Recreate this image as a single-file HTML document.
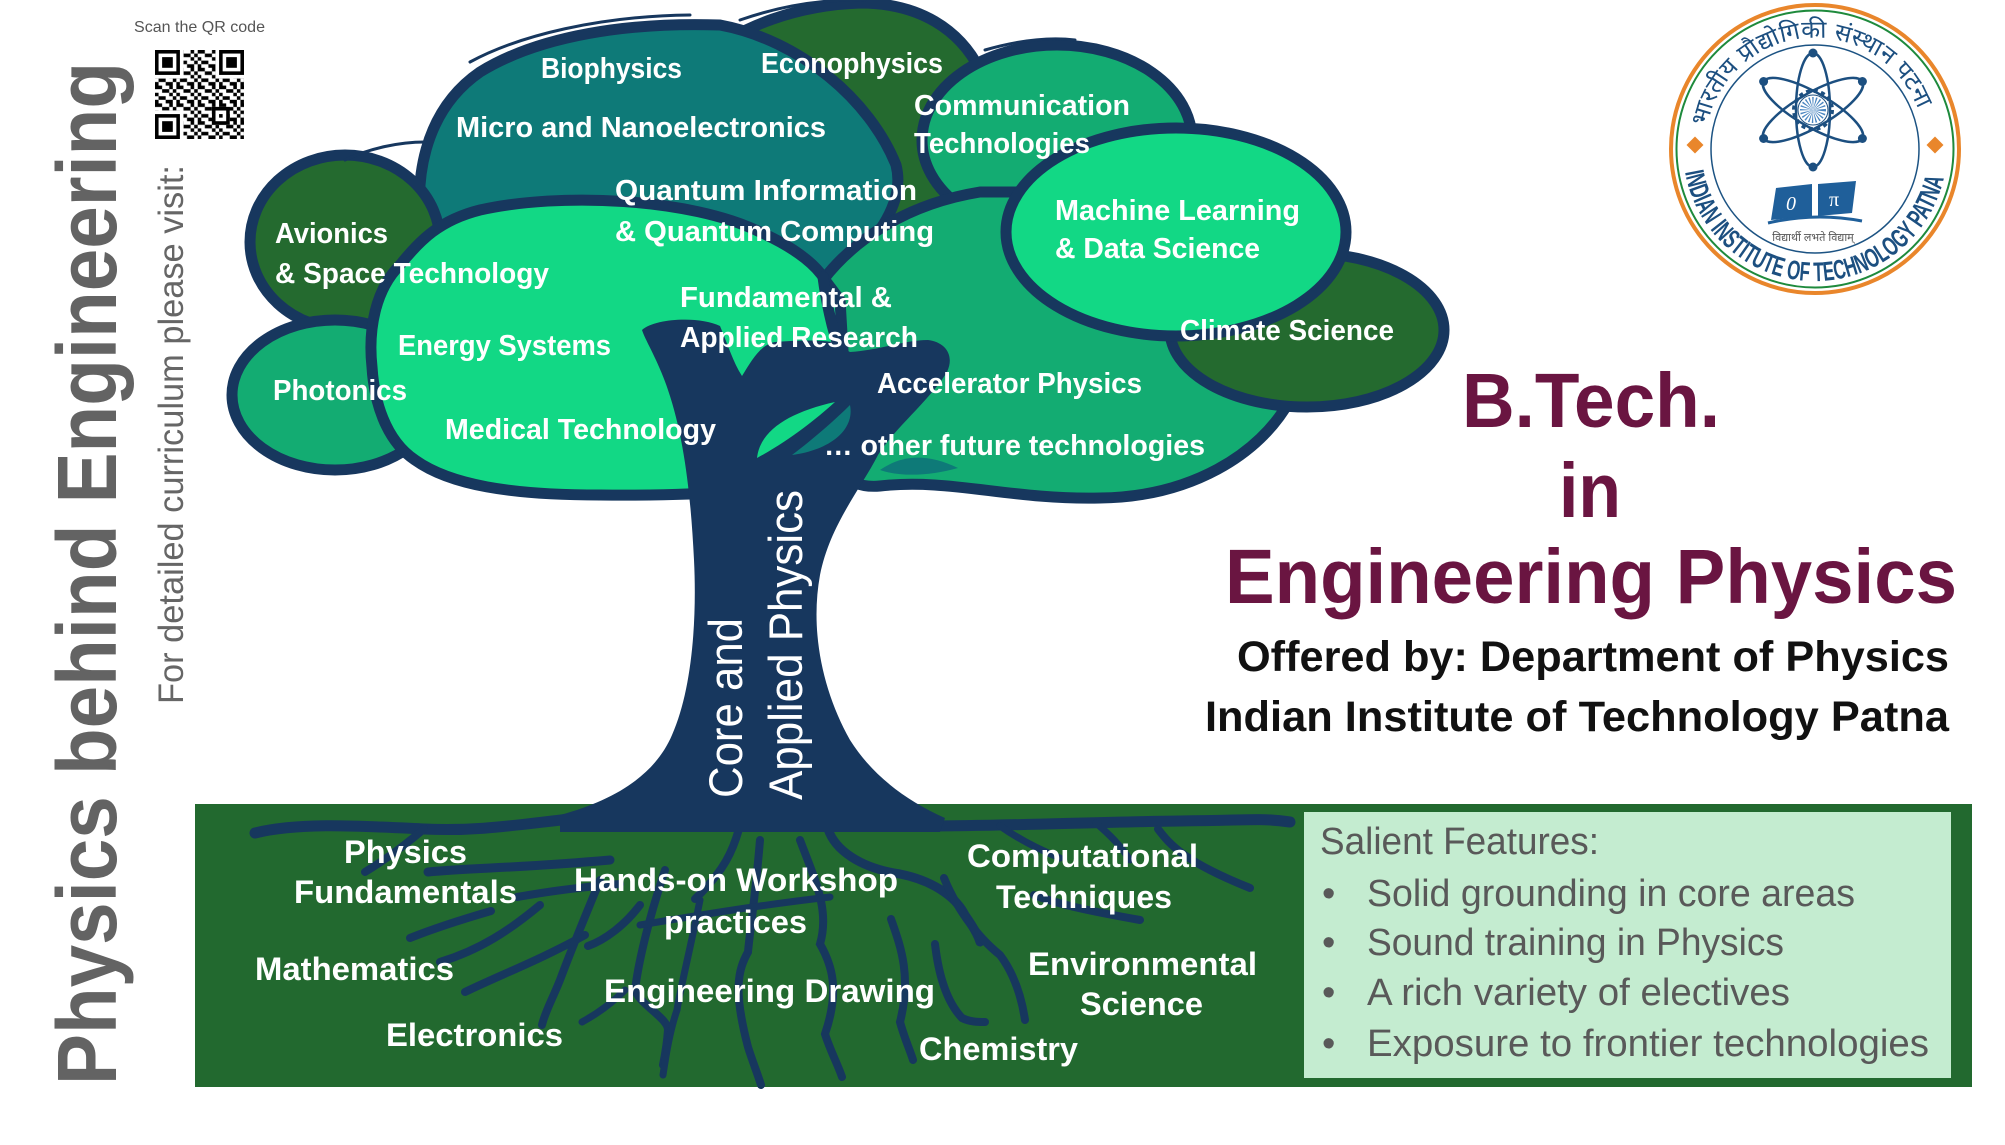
<!DOCTYPE html>
<html>
<head>
<meta charset="utf-8">
<style>
  html,body{margin:0;padding:0;background:#fff;}
  svg{display:block;}
  .cw{font-family:"Liberation Sans",sans-serif;font-weight:bold;fill:#fff;font-size:29px;}
  .gw{font-family:"Liberation Sans",sans-serif;font-weight:bold;fill:#fff;font-size:32px;}
  .sf{font-family:"Liberation Sans",sans-serif;fill:#595959;font-size:38px;}
  .tt{font-family:"Liberation Sans",sans-serif;font-weight:bold;fill:#6a1541;font-size:77px;}
  .ob{font-family:"Liberation Sans",sans-serif;font-weight:bold;fill:#111;font-size:43px;}
  .rt{fill:none;stroke:#17375e;stroke-linecap:round;}
</style>
</head>
<body>
<svg width="2005" height="1145" viewBox="0 0 2005 1145" xmlns="http://www.w3.org/2000/svg">
<defs>
  <pattern id="qrp" width="6" height="5" patternUnits="userSpaceOnUse">
    <rect width="6" height="5" fill="#fff"/>
    <path d="M0 0h2v1h-2z M4 0h1v1h-1z M2 1h2v1h-2z M5 1h1v1h-1z M0 2h1v1h-1z M4 2h1v1h-1z M1 3h2v1h-2z M5 3h1v1h-1z M0 4h1v1h-1z M3 4h2v1h-2z" fill="#000"/>
  </pattern>
  <path id="arcB" d="M 1685 172 A 132 132 0 0 0 1945 172" fill="none"/>
  <path id="arcT" d="M 1706 133 A 110 110 0 0 1 1924 133" fill="none"/>
</defs>

<rect width="2005" height="1145" fill="#fff"/>

<!-- Left vertical texts -->
<text transform="translate(116,1085) rotate(-90)" font-family="Liberation Sans, sans-serif" font-weight="bold" font-size="84" fill="#636363" textLength="1023" lengthAdjust="spacingAndGlyphs">Physics behind Engineering</text>
<text transform="translate(183,704) rotate(-90)" font-family="Liberation Sans, sans-serif" font-size="35" fill="#666" textLength="539" lengthAdjust="spacingAndGlyphs">For detailed curriculum please visit:</text>
<text x="134" y="32" font-family="Liberation Sans, sans-serif" font-size="16" fill="#555" textLength="131" lengthAdjust="spacingAndGlyphs">Scan the QR code</text>

<!-- QR code -->
<g transform="translate(155,50) scale(3.56)">
  <rect x="0" y="0" width="25" height="25" fill="url(#qrp)"/>
  <rect x="0" y="0" width="8" height="8" fill="#fff"/>
  <rect x="17" y="0" width="8" height="8" fill="#fff"/>
  <rect x="0" y="17" width="8" height="8" fill="#fff"/>
  <g fill="#000">
    <rect x="0" y="0" width="7" height="7"/><rect x="18" y="0" width="7" height="7"/><rect x="0" y="18" width="7" height="7"/>
    <rect x="16" y="16" width="5" height="5"/>
  </g>
  <g fill="#fff">
    <rect x="1" y="1" width="5" height="5"/><rect x="19" y="1" width="5" height="5"/><rect x="1" y="19" width="5" height="5"/>
    <rect x="17" y="17" width="3" height="3"/>
  </g>
  <g fill="#000">
    <rect x="2" y="2" width="3" height="3"/><rect x="20" y="2" width="3" height="3"/><rect x="2" y="20" width="3" height="3"/>
    <rect x="18" y="18" width="1" height="1"/>
  </g>
</g>

<!-- Ground -->
<rect x="195" y="804" width="1777" height="283" fill="#22692f"/>
<rect x="1304" y="812" width="647" height="266" fill="#c4ecd0"/>

<!-- Roots -->
<g class="rt">
  <path d="M 255 833 C 300 822, 360 826, 424 829 S 530 822, 610 815" stroke-width="11"/>
  <path d="M 424 829 C 405 845, 385 860, 365 872" stroke-width="8"/>
  <path d="M 428 872 C 470 868, 520 868, 610 860" stroke-width="9"/>
  <path d="M 517 897 C 540 893, 570 888, 620 884" stroke-width="8"/>
  <path d="M 491 911 C 460 920, 430 930, 410 938" stroke-width="8"/>
  <path d="M 540 905 C 510 930, 480 950, 440 962" stroke-width="8"/>
  <path d="M 585 935 C 540 960, 500 975, 465 992" stroke-width="8"/>
  <path d="M 600 880 C 590 905, 575 940, 560 980 C 552 1000, 545 1012, 542 1025" stroke-width="8"/>
  <path d="M 640 905 C 625 925, 605 940, 588 946" stroke-width="8"/>
  <path d="M 665 870 C 655 900, 640 950, 635 990 C 640 1005, 668 1018, 668 1030 C 667 1045, 665 1055, 663 1065" stroke-width="8"/>
  <path d="M 625 990 C 610 1005, 595 1015, 582 1022" stroke-width="7"/>
  <path d="M 930 826 C 1000 826, 1100 822, 1180 821 S 1260 818, 1290 822" stroke-width="11"/>
  <path d="M 1158 829 C 1170 845, 1185 862, 1250 888" stroke-width="8"/>
  <path d="M 828 829 C 835 850, 860 868, 900 874 C 930 880, 955 895, 965 915 C 972 925, 978 935, 980 942" stroke-width="9"/>
  <path d="M 944 878 C 955 905, 975 935, 1000 955 C 1015 975, 1022 1000, 1025 1020" stroke-width="8"/>
  <path d="M 1034 895 C 1060 905, 1095 912, 1140 920" stroke-width="8"/>
  <path d="M 935 944 C 938 970, 945 1000, 962 1018 C 970 1022, 978 1022, 985 1022" stroke-width="8"/>
  <path d="M 891 919 C 900 945, 912 975, 900 1022 C 905 1040, 910 1050, 913 1060" stroke-width="8"/>
  <path d="M 800 840 C 815 880, 830 910, 820 944 C 832 965, 840 990, 825 1034 C 830 1050, 838 1065, 842 1077" stroke-width="8"/>
  <path d="M 760 840 C 755 900, 750 930, 748 952 C 738 970, 733 990, 748 1047 C 752 1060, 758 1075, 761 1085" stroke-width="8"/>
  <path d="M 739 829 C 733 850, 725 870, 695 899" stroke-width="8"/>
  <path d="M 700 900 C 690 950, 680 990, 677 1010 C 670 1030, 666 1055, 663 1075" stroke-width="7"/>
  <path d="M 1096 823 C 1110 835, 1120 845, 1130 860" stroke-width="7"/>
  <path d="M 1000 826 C 1020 840, 1040 850, 1060 858" stroke-width="7"/>
  <path d="M 640 925 C 700 915, 760 905, 830 897" stroke-width="7"/>
</g>

<!-- Canopy blobs -->
<g stroke="#17375e" stroke-width="11" stroke-linejoin="round">
  <path d="M 700 60 C 740 25, 800 5, 860 3 C 920 3, 960 30, 980 70 L 990 240 L 700 240 Z" fill="#246a2f"/>
  <path d="M 425 250 C 410 180, 425 110, 480 72 C 540 35, 630 22, 720 25 C 800 40, 870 100, 896 165 C 905 200, 880 240, 840 270 L 820 280 L 600 300 L 430 290 Z" fill="#0e7a78"/>
  <ellipse cx="1057" cy="140" rx="135" ry="95" fill="#13ac72"/>
  <ellipse cx="345" cy="242" rx="95" ry="87" fill="#246a2f"/>
  <ellipse cx="335" cy="395" rx="103" ry="75" fill="#13ac72"/>
  <path d="M 823 280 C 850 245, 900 205, 980 192 L 1200 192 L 1300 300 L 1290 400 C 1260 455, 1190 497, 1100 498 C 1010 500, 950 478, 880 486 C 860 488, 845 480, 835 470 Z" fill="#13ac72"/>
  <ellipse cx="1307" cy="330" rx="137" ry="77" fill="#246a2f"/>
  <ellipse cx="1176" cy="232" rx="170" ry="104" fill="#12d885"/>
  <path d="M 372 367 C 368 330, 375 290, 400 265 C 420 240, 440 220, 480 210 C 560 192, 690 198, 760 232 C 800 250, 818 268, 825 280 L 840 300 L 850 470 C 780 492, 700 496, 600 495 C 510 495, 450 485, 415 460 C 385 440, 374 400, 372 367 Z" fill="#12d885"/>
</g>

<!-- thin highlight lines -->
<g fill="none" stroke="#17375e" stroke-width="3" stroke-linecap="round">
  <path d="M 470 62 C 520 35, 600 16, 690 15"/>
  <path d="M 345 160 C 370 148, 400 142, 425 142"/>
  <path d="M 740 20 C 780 6, 820 -1, 865 0"/>
  <path d="M 985 50 C 1020 40, 1050 37, 1075 40"/>
</g>

<!-- vertical branch -->
<path d="M 823 277 C 826 300, 832 330, 840 350 C 850 370, 855 390, 848 410" fill="none" stroke="#17375e" stroke-width="11" stroke-linecap="round"/>

<!-- Trunk -->
<path d="M 560 815 C 615 800, 655 775, 672 735 C 692 690, 697 620, 694 560 C 691 500, 685 440, 668 390 C 658 360, 645 340, 642 330 C 655 318, 700 316, 720 326 C 728 345, 733 362, 742 376 C 752 360, 760 345, 775 342 C 800 340, 820 340, 832 342 L 850 352 C 880 350, 905 340, 928 340 C 945 342, 955 355, 947 372 C 930 400, 893 430, 878 455 C 860 490, 830 525, 820 575 C 810 630, 822 690, 850 740 C 872 775, 905 800, 945 818 L 940 832 L 560 832 Z" fill="#17375e"/>
<path d="M 757 458 C 760 430, 790 412, 835 402 C 815 420, 790 440, 757 458 Z" fill="#12d885"/>
<path d="M 792 455 C 812 440, 835 420, 850 405 C 855 430, 830 450, 792 455 Z" fill="#0e7a78"/>
<path d="M 880 470 C 900 456, 925 452, 958 468 C 930 476, 900 477, 880 470 Z" fill="#0e7a78"/>

<!-- Canopy labels -->
<text class="cw" x="541" y="78" textLength="141" lengthAdjust="spacingAndGlyphs">Biophysics</text>
<text class="cw" x="761" y="73" textLength="182" lengthAdjust="spacingAndGlyphs">Econophysics</text>
<text class="cw" x="456" y="137" textLength="370" lengthAdjust="spacingAndGlyphs">Micro and Nanoelectronics</text>
<text class="cw" x="914" y="115" textLength="216" lengthAdjust="spacingAndGlyphs">Communication</text>
<text class="cw" x="914" y="153" textLength="176" lengthAdjust="spacingAndGlyphs">Technologies</text>
<text class="cw" x="615" y="200" textLength="302" lengthAdjust="spacingAndGlyphs">Quantum Information</text>
<text class="cw" x="615" y="241" textLength="319" lengthAdjust="spacingAndGlyphs">&amp; Quantum Computing</text>
<text class="cw" x="275" y="243" textLength="113" lengthAdjust="spacingAndGlyphs">Avionics</text>
<text class="cw" x="275" y="283" textLength="274" lengthAdjust="spacingAndGlyphs">&amp; Space Technology</text>
<text class="cw" x="1055" y="220" textLength="245" lengthAdjust="spacingAndGlyphs">Machine Learning</text>
<text class="cw" x="1055" y="258" textLength="205" lengthAdjust="spacingAndGlyphs">&amp; Data Science</text>
<text class="cw" x="680" y="307" textLength="212" lengthAdjust="spacingAndGlyphs">Fundamental &amp;</text>
<text class="cw" x="680" y="347" textLength="238" lengthAdjust="spacingAndGlyphs">Applied Research</text>
<text class="cw" x="398" y="355" textLength="213" lengthAdjust="spacingAndGlyphs">Energy Systems</text>
<text class="cw" x="1180" y="340" textLength="214" lengthAdjust="spacingAndGlyphs">Climate Science</text>
<text class="cw" x="273" y="400" textLength="134" lengthAdjust="spacingAndGlyphs">Photonics</text>
<text class="cw" x="877" y="393" textLength="265" lengthAdjust="spacingAndGlyphs">Accelerator Physics</text>
<text class="cw" x="445" y="439" textLength="271" lengthAdjust="spacingAndGlyphs">Medical Technology</text>
<text class="cw" x="824" y="455" textLength="381" lengthAdjust="spacingAndGlyphs">… other future technologies</text>

<!-- Trunk text -->
<text transform="translate(742,798) rotate(-90)" font-family="Liberation Sans, sans-serif" font-size="47" fill="#fff" textLength="180" lengthAdjust="spacingAndGlyphs">Core and</text>
<text transform="translate(802,800) rotate(-90)" font-family="Liberation Sans, sans-serif" font-size="47" fill="#fff" textLength="310" lengthAdjust="spacingAndGlyphs">Applied Physics</text>

<!-- Ground labels -->
<text class="gw" x="344" y="863" textLength="123" lengthAdjust="spacingAndGlyphs">Physics</text>
<text class="gw" x="294" y="903" textLength="223" lengthAdjust="spacingAndGlyphs">Fundamentals</text>
<text class="gw" x="574" y="891" textLength="324" lengthAdjust="spacingAndGlyphs">Hands-on Workshop</text>
<text class="gw" x="664" y="933" textLength="143" lengthAdjust="spacingAndGlyphs">practices</text>
<text class="gw" x="967" y="867" textLength="231" lengthAdjust="spacingAndGlyphs">Computational</text>
<text class="gw" x="996" y="908" textLength="176" lengthAdjust="spacingAndGlyphs">Techniques</text>
<text class="gw" x="255" y="980" textLength="199" lengthAdjust="spacingAndGlyphs">Mathematics</text>
<text class="gw" x="604" y="1002" textLength="331" lengthAdjust="spacingAndGlyphs">Engineering Drawing</text>
<text class="gw" x="1028" y="975" textLength="229" lengthAdjust="spacingAndGlyphs">Environmental</text>
<text class="gw" x="1080" y="1015" textLength="123" lengthAdjust="spacingAndGlyphs">Science</text>
<text class="gw" x="386" y="1046" textLength="177" lengthAdjust="spacingAndGlyphs">Electronics</text>
<text class="gw" x="919" y="1060" textLength="159" lengthAdjust="spacingAndGlyphs">Chemistry</text>

<!-- Salient features -->
<text class="sf" x="1320" y="854" textLength="279" lengthAdjust="spacingAndGlyphs">Salient Features:</text>
<g class="sf">
  <text x="1322" y="906">•</text>
  <text x="1322" y="955">•</text>
  <text x="1322" y="1005">•</text>
  <text x="1322" y="1056">•</text>
</g>
<text class="sf" x="1367" y="906" textLength="488" lengthAdjust="spacingAndGlyphs">Solid grounding in core areas</text>
<text class="sf" x="1367" y="955" textLength="417" lengthAdjust="spacingAndGlyphs">Sound training in Physics</text>
<text class="sf" x="1367" y="1005" textLength="423" lengthAdjust="spacingAndGlyphs">A rich variety of electives</text>
<text class="sf" x="1367" y="1056" textLength="562" lengthAdjust="spacingAndGlyphs">Exposure to frontier technologies</text>

<!-- Title -->
<text class="tt" x="1462" y="427" textLength="258" lengthAdjust="spacingAndGlyphs">B.Tech.</text>
<text class="tt" x="1559" y="517" textLength="62" lengthAdjust="spacingAndGlyphs">in</text>
<text class="tt" x="1225" y="603" textLength="732" lengthAdjust="spacingAndGlyphs">Engineering Physics</text>
<text class="ob" x="1237" y="671" textLength="712" lengthAdjust="spacingAndGlyphs">Offered by: Department of Physics</text>
<text class="ob" x="1205" y="731" textLength="744" lengthAdjust="spacingAndGlyphs">Indian Institute of Technology Patna</text>

<!-- Logo -->
<g>
  <circle cx="1815" cy="149" r="144" fill="#fff" stroke="#e9862b" stroke-width="4"/>
  <circle cx="1815" cy="149" r="138.5" fill="none" stroke="#1e8a3c" stroke-width="2"/>
  <circle cx="1815" cy="149" r="104" fill="none" stroke="#1c5383" stroke-width="1.5"/>
  <text font-family="Liberation Sans, sans-serif" font-weight="bold" font-size="27" fill="#1c4f80"><textPath href="#arcB" textLength="362" lengthAdjust="spacingAndGlyphs">INDIAN INSTITUTE OF TECHNOLOGY PATNA</textPath></text>
  <text font-family="Liberation Sans, 'Noto Sans CJK SC', sans-serif" font-size="24" fill="#1c4f80"><textPath href="#arcT" startOffset="6" textLength="285" lengthAdjust="spacingAndGlyphs">भारतीय प्रौद्योगिकी संस्थान पटना</textPath></text>
  <rect x="-6" y="-6" width="12" height="12" fill="#e9862b" transform="translate(1695,145) rotate(45)"/>
  <rect x="-6" y="-6" width="12" height="12" fill="#e9862b" transform="translate(1935,145) rotate(45)"/>
  <g transform="translate(1813,110)">
    <g fill="none" stroke="#1c4f80" stroke-width="2.5">
      <ellipse rx="57" ry="17" transform="rotate(90)"/>
      <ellipse rx="57" ry="17" transform="rotate(30)"/>
      <ellipse rx="57" ry="17" transform="rotate(-30)"/>
    </g>
    <g fill="#1c4f80">
      <circle cx="0" cy="-57" r="4.5"/><circle cx="0" cy="57" r="4.5"/>
      <circle cx="49.4" cy="28.5" r="4.5"/><circle cx="-49.4" cy="-28.5" r="4.5"/>
      <circle cx="49.4" cy="-28.5" r="4.5"/><circle cx="-49.4" cy="28.5" r="4.5"/>
    </g>
    <circle r="19" fill="none" stroke="#1c4f80" stroke-width="4" stroke-dasharray="4 3.5"/>
    <circle r="15" fill="none" stroke="#1c4f80" stroke-width="1"/>
    <circle r="6.5" fill="none" stroke="#4a86c0" stroke-width="13" stroke-dasharray="0.8 1.2"/>
  </g>
  <path d="M1776 188 L1812 184 L1812 216 L1771 220 Z" fill="#1f5f9a"/>
  <path d="M1818 184 L1856 181 L1852 213 L1818 216 Z" fill="#1f5f9a"/>
  <path d="M1768 223 Q1815 212 1862 221" stroke="#1f5f9a" stroke-width="3" fill="none"/>
  <text x="1786" y="210" font-family="Liberation Serif, serif" font-style="italic" font-size="20" fill="#fff">0</text>
  <text x="1829" y="206" font-family="Liberation Serif, serif" font-size="20" fill="#fff">π</text>
  <text x="1813" y="241" font-family="Liberation Sans, sans-serif" font-size="11" text-anchor="middle" fill="#555">विद्यार्थी लभते विद्याम्</text>
</g>
</svg>
</body>
</html>
